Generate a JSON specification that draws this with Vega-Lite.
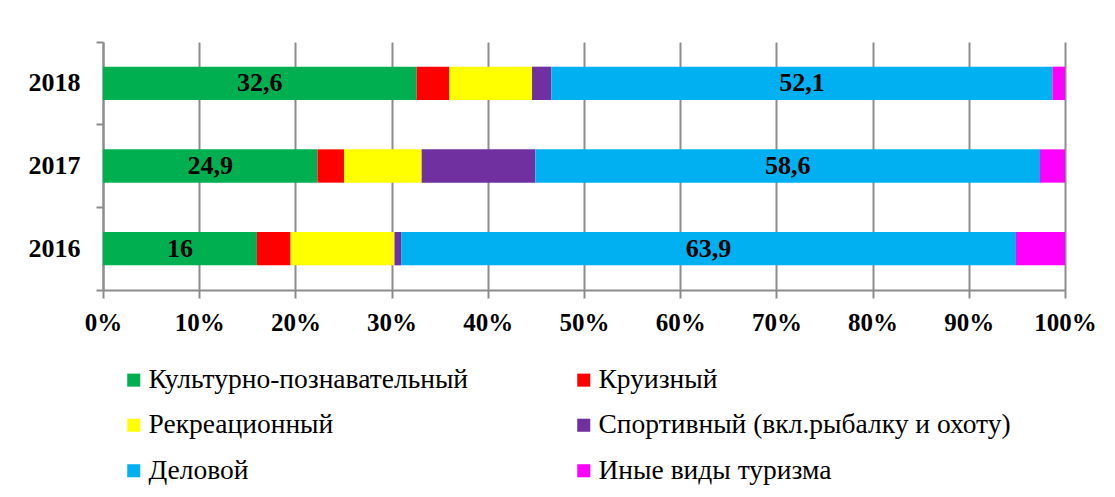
{
  "$schema": "https://vega.github.io/schema/vega-lite/v6.json",
  "width": 962,
  "height": 248,
  "autosize": "none",
  "padding": {"left": 103, "top": 42, "right": 50, "bottom": 207},
  "background": "white",
  "config": {"view": {"stroke": null}, "font": "Times New Roman, Liberation Serif, serif"},
  "data": {
    "values": [
      {"year": "2018", "type": "Культурно-познавательный", "k": 1, "value": 32.6, "label": "32,6"},
      {"year": "2018", "type": "Круизный", "k": 2, "value": 3.4, "label": ""},
      {"year": "2018", "type": "Рекреационный", "k": 3, "value": 8.6, "label": ""},
      {"year": "2018", "type": "Спортивный (вкл.рыбалку и охоту)", "k": 4, "value": 2.0, "label": ""},
      {"year": "2018", "type": "Деловой", "k": 5, "value": 52.1, "label": "52,1"},
      {"year": "2018", "type": "Иные виды туризма", "k": 6, "value": 1.3, "label": ""},
      {"year": "2017", "type": "Культурно-познавательный", "k": 1, "value": 24.9, "label": "24,9"},
      {"year": "2017", "type": "Круизный", "k": 2, "value": 3.1, "label": ""},
      {"year": "2017", "type": "Рекреационный", "k": 3, "value": 9.0, "label": ""},
      {"year": "2017", "type": "Спортивный (вкл.рыбалку и охоту)", "k": 4, "value": 13.2, "label": ""},
      {"year": "2017", "type": "Деловой", "k": 5, "value": 58.6, "label": "58,6"},
      {"year": "2017", "type": "Иные виды туризма", "k": 6, "value": 2.9, "label": ""},
      {"year": "2016", "type": "Культурно-познавательный", "k": 1, "value": 16.0, "label": "16"},
      {"year": "2016", "type": "Круизный", "k": 2, "value": 3.5, "label": ""},
      {"year": "2016", "type": "Рекреационный", "k": 3, "value": 10.8, "label": ""},
      {"year": "2016", "type": "Спортивный (вкл.рыбалку и охоту)", "k": 4, "value": 0.7, "label": ""},
      {"year": "2016", "type": "Деловой", "k": 5, "value": 63.9, "label": "63,9"},
      {"year": "2016", "type": "Иные виды туризма", "k": 6, "value": 5.1, "label": ""}
    ]
  },
  "encoding": {
    "y": {
      "field": "year",
      "type": "ordinal",
      "sort": "descending",
      "scale": {"paddingInner": 0, "paddingOuter": 0},
      "axis": {
        "title": null,
        "grid": false,
        "bandPosition": 1,
        "tickExtra": true,
        "domainColor": "#8c8c8c",
        "domainWidth": 2,
        "tickColor": "#8c8c8c",
        "tickWidth": 2,
        "tickSize": 7,
        "labelFont": "Times New Roman, Liberation Serif, serif",
        "labelFontSize": 26,
        "labelFontWeight": "bold",
        "labelColor": "black",
        "labelPadding": 16
      }
    },
    "x": {
      "field": "value",
      "type": "quantitative",
      "stack": "normalize",
      "scale": {"domain": [0, 1], "nice": false},
      "axis": {
        "title": null,
        "values": [0, 0.1, 0.2, 0.3, 0.4, 0.5, 0.6, 0.7, 0.8, 0.9, 1],
        "format": ".0%",
        "labelFlush": false,
        "labelOverlap": false,
        "grid": true,
        "gridColor": "#8c8c8c",
        "gridWidth": 2,
        "domainColor": "#8c8c8c",
        "domainWidth": 2,
        "tickColor": "#8c8c8c",
        "tickWidth": 2,
        "tickSize": 8,
        "labelFont": "Times New Roman, Liberation Serif, serif",
        "labelFontSize": 25,
        "labelFontWeight": "bold",
        "labelColor": "black",
        "labelPadding": 12
      }
    },
    "order": {"field": "k", "type": "quantitative"}
  },
  "layer": [
    {
      "mark": {"type": "bar", "height": {"band": 0.403}},
      "encoding": {
        "color": {
          "field": "type",
          "type": "nominal",
          "scale": {
            "domain": ["Культурно-познавательный", "Рекреационный", "Деловой", "Круизный", "Спортивный (вкл.рыбалку и охоту)", "Иные виды туризма"],
            "range": ["#00B050", "#FFFF00", "#00B0F0", "#FF0000", "#7030A0", "#FF00FF"]
          },
          "legend": {
            "title": null,
            "orient": "none",
            "legendX": 17,
            "legendY": 324,
            "columns": 2,
            "symbolType": "square",
            "symbolSize": 170,
            "symbolStrokeWidth": 0,
            "symbolOpacity": 1,
            "labelFont": "Times New Roman, Liberation Serif, serif",
            "labelFontSize": 27.5,
            "labelColor": "black",
            "labelOffset": 1,
            "labelLimit": 0,
            "columnPadding": 101,
            "rowPadding": 16.5
          }
        }
      }
    },
    {
      "mark": {"type": "text", "font": "Times New Roman, Liberation Serif, serif", "fontSize": 26, "fontWeight": "bold", "color": "black", "baseline": "middle", "align": "center"},
      "encoding": {
        "x": {"field": "value", "type": "quantitative", "stack": "normalize", "bandPosition": 0.5},
        "detail": {"field": "type"},
        "text": {"field": "label"}
      }
    }
  ]
}
